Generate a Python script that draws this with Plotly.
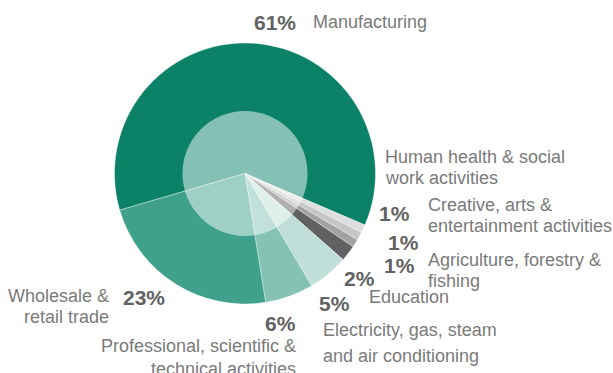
import plotly.graph_objects as go

W, H = 613, 373

sectors = ["Manufacturing", "Human health & social work activities",
           "Creative, arts & entertainment activities", "Agriculture, forestry & fishing",
           "Education", "Electricity, gas, steam and air conditioning",
           "Professional, scientific & technical activities", "Wholesale & retail trade"]
shares = [61, 1, 1, 1, 2, 5, 6, 23]
colors = ["#0B8168", "#DDDEDF", "#C6C6C8", "#A2A2A4", "#616163", "#BFDFD8", "#85C2B4", "#3FA08B"]

# label lines: (text, x_px, y_px, anchor, kind)
labels = [
    ("61%", 253, 22, "left", "pct"),
    ("Manufacturing", 312, 22, "left", "txt"),
    ("Human health &amp; social", 384, 157, "left", "txt"),
    ("work activities", 384, 178, "left", "txt"),
    ("1%", 378, 213, "left", "pct"),
    ("Creative, arts &amp;", 427, 205, "left", "txt"),
    ("entertainment activities", 427, 226, "left", "txt"),
    ("1%", 387, 242, "left", "pct"),
    ("1%", 383, 265, "left", "pct"),
    ("Agriculture, forestry &amp;", 427, 260, "left", "txt"),
    ("fishing", 427, 281, "left", "txt"),
    ("2%", 343, 278, "left", "pct"),
    ("Education", 368, 297, "left", "txt"),
    ("5%", 318, 303, "left", "pct"),
    ("Electricity, gas, steam", 322, 330, "left", "txt"),
    ("and air conditioning", 322, 356, "left", "txt"),
    ("6%", 297, 323, "right", "pct"),
    ("Professional, scientific &amp;", 297, 346, "right", "txt"),
    ("technical activities", 297, 369, "right", "txt"),
    ("Wholesale &amp;", 110, 296, "right", "txt"),
    ("retail trade", 110, 317, "right", "txt"),
    ("23%", 122, 297, "left", "pct"),
]

cx, cy, r = 245, 173.5, 130.5
r_in = 62.5

fig = go.Figure(go.Pie(
    labels=sectors, values=shares, sort=False, direction="clockwise",
    rotation=253.7, textinfo="none", hoverinfo="label+percent",
    marker=dict(colors=colors, line=dict(color="rgba(255,255,255,0.6)", width=0.6)),
    domain=dict(x=[(cx - r) / W, (cx + r) / W], y=[(H - cy - r) / H, (H - cy + r) / H]),
    showlegend=False,
))

fig.add_shape(type="circle", xref="paper", yref="paper",
              x0=(cx - r_in) / W, x1=(cx + r_in) / W,
              y0=(H - cy - r_in) / H, y1=(H - cy + r_in) / H,
              fillcolor="rgba(255,255,255,0.5)", line=dict(width=0), layer="above")

for text, x, y, anchor, kind in labels:
    if kind == "pct":
        font = dict(family="Liberation Sans, Arial, sans-serif", size=21, color="#626262")
        text = "<b>" + text + "</b>"
    else:
        font = dict(family="Liberation Sans, Arial, sans-serif", size=18, color="#7a7a7a")
    fig.add_annotation(text=text, x=x / W, y=1 - y / H, xref="paper", yref="paper",
                       xanchor=anchor, yanchor="middle", showarrow=False, font=font,
                       borderpad=0)

fig.update_layout(width=W, height=H, margin=dict(l=0, r=0, t=0, b=0),
                  paper_bgcolor="white", plot_bgcolor="white")
fig.write_html("out.html")
